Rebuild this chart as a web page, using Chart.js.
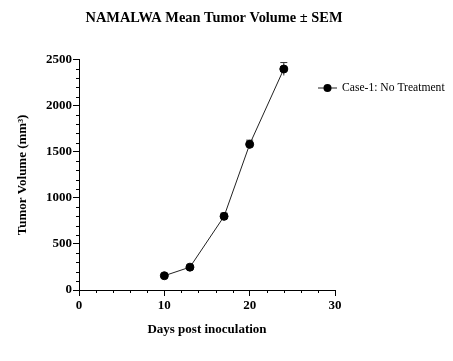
<!DOCTYPE html>
<html>
<head>
<meta charset="utf-8">
<script src="https://cdn.jsdelivr.net/npm/chart.js@4.4.1/dist/chart.umd.min.js"></script>
<style>
  html, body { margin: 0; padding: 0; background: #fff; }
  #wrap { width: 453px; height: 361px; position: relative; }
</style>
</head>
<body>
<div id="wrap"><canvas id="chart"></canvas></div>
<script>
// data
const days = [10, 13, 17, 20, 24];
const meanVolume = [155, 248, 800, 1582, 2400];
const semVolume = [12, 15, 35, 45, 70];
const seriesLabel = "Case-1: No Treatment";
const chartTitle = "NAMALWA Mean Tumor Volume ± SEM";
const xTicks = [0, 10, 20, 30];
const yTicks = [0, 500, 1000, 1500, 2000, 2500];

const serif = "'Liberation Serif', 'Times New Roman', serif";

// minor ticks, error bars, title and legend
const extras = {
  id: "extras",
  beforeDatasetsDraw(c) {
    const ctx = c.ctx, x = c.scales.x, y = c.scales.y;
    ctx.save();
    ctx.strokeStyle = "#000";
    ctx.lineWidth = 1;
    // minor ticks
    for (let v = 0; v <= 2500; v += 100) {
      if (v % 500 === 0) continue;
      const py = Math.round(y.getPixelForValue(v)) + 0.5;
      ctx.beginPath();
      ctx.moveTo(x.left - 3, py);
      ctx.lineTo(x.left, py);
      ctx.stroke();
    }
    for (let v = 0; v <= 30; v += 2) {
      if (v % 10 === 0) continue;
      const px = Math.round(x.getPixelForValue(v)) + 0.5;
      ctx.beginPath();
      ctx.moveTo(px, y.bottom);
      ctx.lineTo(px, y.bottom + 3);
      ctx.stroke();
    }
    // error bars
    ctx.strokeStyle = "#333";
    for (let i = 0; i < days.length; i++) {
      const px = x.getPixelForValue(days[i]);
      const top = y.getPixelForValue(meanVolume[i] + semVolume[i]);
      const bot = y.getPixelForValue(meanVolume[i] - semVolume[i]);
      ctx.beginPath();
      ctx.moveTo(px, top);
      ctx.lineTo(px, bot);
      ctx.moveTo(px - 3.5, top);
      ctx.lineTo(px + 3.5, top);
      ctx.stroke();
    }
    ctx.restore();
  },
  afterDraw(c) {
    const ctx = c.ctx;
    ctx.save();
    ctx.fillStyle = "#000";
    ctx.font = "bold 14.4px " + serif;
    ctx.textAlign = "center";
    ctx.textBaseline = "middle";
    ctx.fillText(chartTitle, 214, 18);

    const ly = 88;
    ctx.strokeStyle = "#222";
    ctx.lineWidth = 1;
    ctx.beginPath();
    ctx.moveTo(318, ly);
    ctx.lineTo(337, ly);
    ctx.stroke();
    ctx.beginPath();
    ctx.arc(327.5, ly, 4, 0, Math.PI * 2);
    ctx.fill();
    ctx.font = "11.6px " + serif;
    ctx.textAlign = "left";
    ctx.fillText(seriesLabel, 342, ly);
    ctx.restore();
  }
};

new Chart(document.getElementById("chart"), {
  type: "line",
  data: {
    datasets: [{
      label: seriesLabel,
      data: days.map((d, i) => ({ x: d, y: meanVolume[i] })),
      borderColor: "#222",
      borderWidth: 1,
      pointRadius: 4,
      pointBackgroundColor: "#000",
      pointBorderColor: "#000",
      tension: 0
    }]
  },
  options: {
    responsive: true,
    maintainAspectRatio: false,
    animation: false,
    layout: { padding: { top: 0, right: 118, bottom: 0, left: 0 } },
    plugins: {
      legend: { display: false },
      tooltip: { enabled: false },
      title: {
        display: true,
        text: "",
        font: { family: serif, size: 14, weight: "bold" },
        padding: { top: 10, bottom: 33 }
      }
    },
    scales: {
      x: {
        type: "linear",
        min: 0, max: 30,
        afterBuildTicks: s => { s.ticks = xTicks.map(v => ({ value: v })); },
        afterFit: s => { s.height = 71; },
        grid: { display: true, drawOnChartArea: false, tickLength: 6, color: "#000", tickColor: "#000" },
        border: { display: true, color: "#000", width: 1 },
        ticks: { color: "#000", padding: 2, maxRotation: 0, callback: v => String(v), font: { family: serif, size: 13, weight: "bold" } },
        title: {
          display: true, text: "Days post inoculation", color: "#000",
          font: { family: serif, size: 13, weight: "bold" },
          padding: { top: 0, bottom: 24 }
        }
      },
      y: {
        type: "linear",
        min: 0, max: 2500,
        afterBuildTicks: s => { s.ticks = yTicks.map(v => ({ value: v })); },
        afterFit: s => { s.width = 79; },
        grid: { display: true, drawOnChartArea: false, tickLength: 6, color: "#000", tickColor: "#000" },
        border: { display: true, color: "#000", width: 1 },
        ticks: { color: "#000", padding: 1, callback: v => String(v), font: { family: serif, size: 13, weight: "bold" } },
        title: {
          display: true, text: "Tumor Volume (mm³)", color: "#000",
          font: { family: serif, size: 13, weight: "bold" },
          padding: { top: 15, bottom: 0 }
        }
      }
    }
  },
  plugins: [extras]
});
</script>
</body>
</html>
